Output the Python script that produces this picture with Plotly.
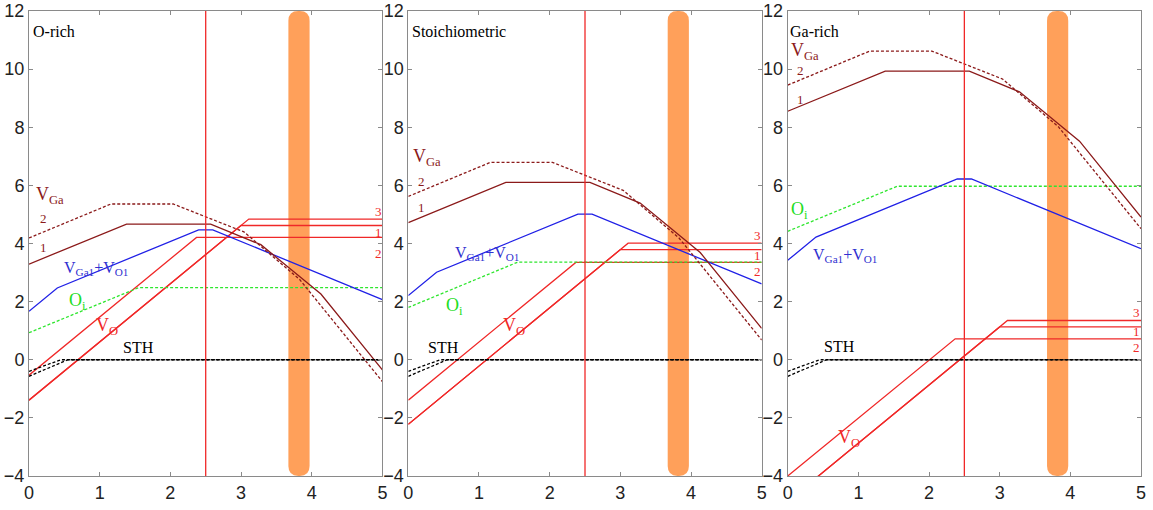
import plotly.graph_objects as go

# ---------------- data ----------------
panel_titles = ["O-rich", "Stoichiometric", "Ga-rich"]
x_tick_vals = [0, 1, 2, 3, 4, 5]
y_tick_vals = [-4, -2, 0, 2, 4, 6, 8, 10, 12]

# V_Ga, configuration 1 (solid)
x_vga1 = [0, 1.38, 2.57, 3.28, 4.13, 5]
vga1_orich = [3.29, 4.67, 4.67, 3.96, 2.26, -0.35]
vga1_stoich = [4.72, 6.10, 6.10, 5.39, 3.69, 1.08]
vga1_garich = [8.55, 9.93, 9.93, 9.22, 7.52, 4.91]

# V_Ga, configuration 2 (dotted)
x_vga2 = [0, 1.16, 2.04, 3.04, 3.83, 5]
vga2_orich = [4.19, 5.36, 5.36, 4.40, 2.76, -0.75]
vga2_stoich = [5.62, 6.79, 6.79, 5.83, 4.19, 0.68]
vga2_garich = [9.45, 10.62, 10.62, 9.66, 8.02, 4.51]

# V_Ga1 + V_O1 complex
x_vgavo = [0, 0.4, 2.4, 2.6, 5]
vgavo_orich = [1.67, 2.47, 4.47, 4.47, 2.07]
vgavo_stoich = [2.21, 3.01, 5.01, 5.01, 2.61]
vgavo_garich = [3.42, 4.22, 6.22, 6.22, 3.82]

# O_i interstitial
x_oi = [0, 1.55, 5]
oi_orich = [0.93, 2.48, 2.48]
oi_stoich = [1.80, 3.36, 3.36]
oi_garich = [4.42, 5.97, 5.97]

# V_O, sites 1, 2, 3
x_vo1 = [0, 3.0, 5]
vo1_orich = [-1.39, 4.62, 4.62]
vo1_stoich = [-2.22, 3.79, 3.79]
vo1_garich = [-4.87, 1.13, 1.13]

x_vo2 = [0, 2.37, 5]
vo2_orich = [-0.53, 4.21, 4.21]
vo2_stoich = [-1.39, 3.35, 3.35]
vo2_garich = [-4.0, 0.72, 0.72]

x_vo3 = [0, 3.11, 5]
vo3_orich = [-1.39, 4.84, 4.84]
vo3_stoich = [-2.22, 4.01, 4.01]
vo3_garich = [-4.87, 1.35, 1.35]

# STH (self-trapped hole)
x_sth_a = [0, 0.45, 5]
sth_a = [-0.40, 0, 0]
x_sth_b = [0, 0.55, 5]
sth_b = [-0.57, 0, 0]

vline_x = 2.5
band_x = [3.67, 3.97]

# ---------------- styles ----------------
C_VGA = "#8B1A1A"
C_BLUE = "#2020E6"
C_GREEN = "#2EE62E"
C_RED = "#F02828"
C_BAND = "#FFA05A"
SERIF = "Liberation Serif, Times New Roman, serif"
SANS = "Liberation Sans, Arial, sans-serif"
DOT = "3px,2px"
LW = 1.3

panels = [
    dict(vga1=vga1_orich, vga2=vga2_orich, vgavo=vgavo_orich, oi=oi_orich,
         vo1=vo1_orich, vo2=vo2_orich, vo3=vo3_orich),
    dict(vga1=vga1_stoich, vga2=vga2_stoich, vgavo=vgavo_stoich, oi=oi_stoich,
         vo1=vo1_stoich, vo2=vo2_stoich, vo3=vo3_stoich),
    dict(vga1=vga1_garich, vga2=vga2_garich, vgavo=vgavo_garich, oi=oi_garich,
         vo1=vo1_garich, vo2=vo2_garich, vo3=vo3_garich),
]

# label positions (x, y) per panel
label_pos = [
    dict(title=(0.03, 11.3), vga=(0.07, 5.65), n2=(0.13, 4.85), n1=(0.13, 3.85),
         vgavo=(0.47, 3.15), oi=(0.54, 2.0), vo=(0.92, 1.14), sth=(1.30, 0.42),
         r3=(4.86, 5.1), r1=(4.86, 4.37), r2=(4.86, 3.65)),
    dict(title=(0.03, 11.3), vga=(0.04, 6.95), n2=(0.11, 6.15), n1=(0.11, 5.25),
         vgavo=(0.63, 3.66), oi=(0.51, 1.83), vo=(1.31, 1.16), sth=(0.25, 0.42),
         r3=(4.86, 4.26), r1=(4.86, 3.58), r2=(4.86, 3.03)),
    dict(title=(0.01, 11.3), vga=(0.02, 10.62), n2=(0.1, 9.94), n1=(0.1, 8.94),
         vgavo=(0.33, 3.6), oi=(0.02, 5.14), vo=(0.68, -2.72), sth=(0.49, 0.45),
         r3=(4.86, 1.63), r1=(4.86, 0.97), r2=(4.86, 0.41)),
]

domains = [[0.0, 0.3178], [0.3411, 0.6589], [0.6823, 1.0]]

fig = go.Figure()
annotations = []
shapes = []

for i, p in enumerate(panels):
    xa = "x" if i == 0 else f"x{i+1}"
    ya = "y" if i == 0 else f"y{i+1}"

    def add(x, y, color, dash=None):
        fig.add_trace(go.Scatter(
            x=x, y=y, mode="lines", xaxis=xa, yaxis=ya, showlegend=False,
            hoverinfo="skip",
            line=dict(color=color, width=LW, dash=dash if dash else "solid")))

    add(x_vo2, p["vo2"], C_RED)
    add(x_vo1, p["vo1"], C_RED)
    add(x_vo3, p["vo3"], C_RED)
    add(x_oi, p["oi"], C_GREEN, DOT)
    add(x_vgavo, p["vgavo"], C_BLUE)
    add(x_vga2, p["vga2"], C_VGA, DOT)
    add(x_vga1, p["vga1"], C_VGA)
    add(x_sth_a, sth_a, "#000000", DOT)
    add(x_sth_b, sth_b, "#000000", DOT)

    # vertical red line
    shapes.append(dict(type="line", xref=xa, yref=ya, x0=vline_x, x1=vline_x,
                       y0=y_tick_vals[0], y1=y_tick_vals[-1],
                       line=dict(color=C_RED, width=1.3), layer="above"))
    # orange rounded band
    x0, x1 = band_x
    y0, y1 = y_tick_vals[0], y_tick_vals[-1]
    rx, ry = 0.14, 0.34
    path = (f"M {x0},{y0+ry} L {x0},{y1-ry} Q {x0},{y1} {x0+rx},{y1} "
            f"L {x1-rx},{y1} Q {x1},{y1} {x1},{y1-ry} L {x1},{y0+ry} "
            f"Q {x1},{y0} {x1-rx},{y0} L {x0+rx},{y0} Q {x0},{y0} {x0},{y0+ry} Z")
    shapes.append(dict(type="path", xref=xa, yref=ya, path=path,
                       fillcolor=C_BAND, line=dict(width=0), layer="below"))

    lp = label_pos[i]

    def ann(pos, text, color, size):
        annotations.append(dict(x=pos[0], y=pos[1], xref=xa, yref=ya, text=text,
                                showarrow=False, xanchor="left", yanchor="middle",
                                font=dict(family=SERIF, size=size, color=color)))

    ann(lp["title"], panel_titles[i], "#000000", 16)
    ann(lp["vga"], "V<sub>Ga</sub>", C_VGA, 18)
    ann(lp["n2"], "2", C_VGA, 13)
    ann(lp["n1"], "1", C_VGA, 13)
    ann(lp["vgavo"], "V<sub>Ga1</sub>+V<sub>O1</sub>", "#3030D0", 16)
    ann(lp["oi"], "O<sub>i</sub>", "#22DD22", 18)
    ann(lp["vo"], "V<sub>O</sub>", C_RED, 18)
    ann(lp["sth"], "STH", "#000000", 16)
    ann(lp["r3"], "3", C_RED, 13)
    ann(lp["r1"], "1", C_RED, 13)
    ann(lp["r2"], "2", C_RED, 13)

    axis_common = dict(showgrid=False, zeroline=False, showline=True, mirror="ticks",
                       linecolor="#8a8a8a", linewidth=1, ticks="inside", ticklen=4,
                       tickcolor="#8a8a8a", automargin=False,
                       tickfont=dict(family=SANS, size=18, color="#222222"))
    fig.layout[("xaxis" if i == 0 else f"xaxis{i+1}")] = dict(
        domain=domains[i], range=[x_tick_vals[0], x_tick_vals[-1]], anchor=ya,
        tickvals=x_tick_vals, **axis_common)
    fig.layout[("yaxis" if i == 0 else f"yaxis{i+1}")] = dict(
        domain=[0, 1], range=[y_tick_vals[0], y_tick_vals[-1]], anchor=xa,
        tickvals=y_tick_vals, **axis_common)

fig.update_layout(
    width=1153, height=510,
    margin=dict(l=29, r=12, t=11, b=34),
    paper_bgcolor="white", plot_bgcolor="white",
    annotations=annotations, shapes=shapes,
)

fig.write_html("out.html")
